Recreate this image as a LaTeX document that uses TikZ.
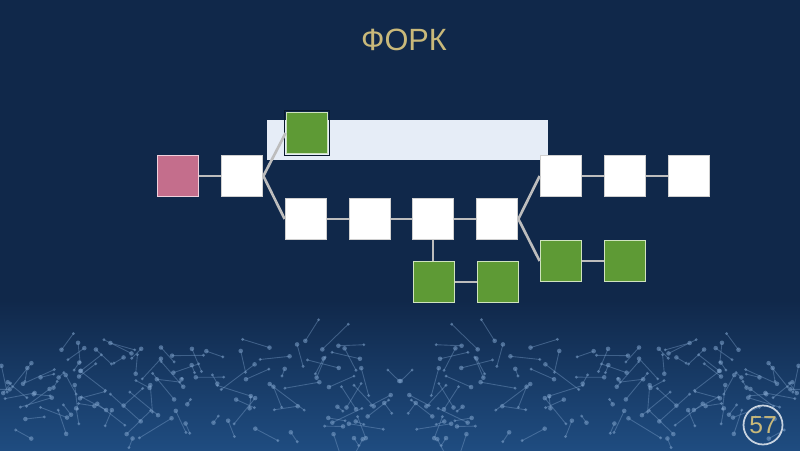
\documentclass[tikz,border=0pt]{standalone}
\usepackage{fontspec}
\setsansfont{Liberation Sans}
\usetikzlibrary{calc}
\definecolor{slidebg}{HTML}{10284A}
\definecolor{slidebglow}{HTML}{1F4C80}
\definecolor{slidegold}{HTML}{C9B97A}
\definecolor{blockwhite}{HTML}{FFFFFF}
\definecolor{blockedge}{HTML}{D0D0D0}
\definecolor{blockgreen}{HTML}{5E9A35}
\definecolor{greenedge}{HTML}{CFE3BE}
\definecolor{blockpink}{HTML}{C46E8C}
\definecolor{pinkedge}{HTML}{F0D0DC}
\definecolor{linkgray}{HTML}{BDBDBD}
\definecolor{bandpale}{HTML}{E6EDF7}
\definecolor{netblue}{HTML}{7FA3CC}

\begin{document}
\begin{tikzpicture}[x=0.02cm,y=-0.02cm,font=\sffamily]
  \tikzstyle{block}=[draw=blockedge, line width=1pt, fill=blockwhite, minimum width=0.82cm, minimum height=0.82cm, inner sep=0pt]
  \tikzstyle{orphan}=[block, draw=greenedge, fill=blockgreen]
  \tikzstyle{genesis}=[block, draw=pinkedge, fill=blockpink]
  \tikzstyle{link}=[draw=linkgray, line width=1.5pt]
  \tikzstyle{net}=[draw=netblue, line width=0.5pt, opacity=0.4]
  \tikzstyle{netdot}=[fill=netblue, opacity=0.55]

  \useasboundingbox (0,0) rectangle (800,450);
  \fill[slidebg] (0,0) rectangle (800,450);
  \shade[top color=slidebg, bottom color=slidebglow] (0,300) rectangle (800,450);

  % network pattern at the bottom
  \pgfmathsetseed{57}
  \foreach \i in {1,...,110}{
    \pgfmathsetmacro{\xa}{rnd*400}
    \pgfmathsetmacro{\ya}{340+rnd*100}
    \pgfmathsetmacro{\xb}{\xa+(rnd-0.5)*70}
    \pgfmathsetmacro{\yb}{\ya+(rnd-0.5)*55}
    \draw[net] (\xa,\ya) -- (\xb,\yb);
    \draw[net] (800-\xa,\ya) -- (800-\xb,\yb);
    \fill[netdot] (\xa,\ya) circle (1.3pt);
    \fill[netdot] (800-\xa,\ya) circle (1.3pt);
    \fill[netdot] (\xb,\yb) circle (0.9pt);
    \fill[netdot] (800-\xb,\yb) circle (0.9pt);
  }

  \node[font=\fontsize{17.5}{21}\selectfont\sffamily, text=slidegold] (title) at (404,40) {ФОРК};

  \fill[bandpale] (267,120) rectangle (548,160);

  % blocks
  \node[genesis] (g0) at (178,176) {};
  \node[block] (b1) at (242,176) {};
  \node[orphan] (t1) at (307,133) {};
  \draw[slidebg!60!black, line width=0.6pt] ($(t1.south west)+(-1.2,1.2)$) rectangle ($(t1.north east)+(1.2,-1.2)$);
  \node[block] (m1) at (306,219) {};
  \node[block] (m2) at (370,219) {};
  \node[block] (m3) at (433,219) {};
  \node[block] (m4) at (497,219) {};
  \node[orphan] (s1) at (434,282) {};
  \node[orphan] (s2) at (498,282) {};
  \node[block] (u1) at (561,176) {};
  \node[block] (u2) at (625,176) {};
  \node[block] (u3) at (689,176) {};
  \node[orphan] (l1) at (561,261) {};
  \node[orphan] (l2) at (625,261) {};

  % links
  \draw[link] (g0.east) -- (b1.west);
  \draw[link] (b1.east) -- (t1.west);
  \draw[link] (b1.east) -- (m1.west);
  \draw[link] (m1.east) -- (m2.west);
  \draw[link] (m2.east) -- (m3.west);
  \draw[link] (m3.east) -- (m4.west);
  \draw[link] (m3.south) -- (m3.south |- s1.north);
  \draw[link] (s1.east) -- (s2.west);
  \draw[link] (m4.east) -- (u1.west);
  \draw[link] (m4.east) -- (l1.west);
  \draw[link] (u1.east) -- (u2.west);
  \draw[link] (u2.east) -- (u3.west);
  \draw[link] (l1.east) -- (l2.west);

  \node[circle, draw=white!75!slidebglow, line width=1pt, minimum size=0.78cm, inner sep=0pt, text=slidegold, font=\fontsize{14}{16}\selectfont\sffamily] (page) at (763,425) {57};
\end{tikzpicture}
\end{document}
